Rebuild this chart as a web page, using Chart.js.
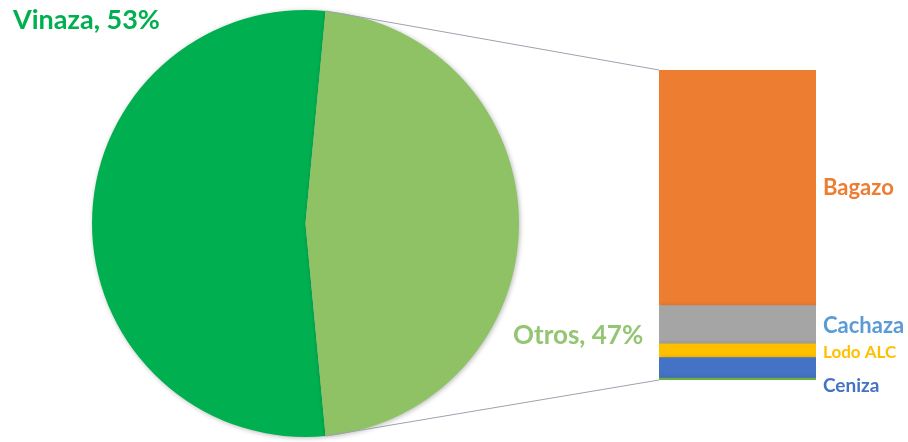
<!DOCTYPE html>
<html>
<head>
<meta charset="utf-8">
<script src="https://cdn.jsdelivr.net/npm/chart.js@4/dist/chart.umd.min.js"></script>
<style>
  html, body { margin: 0; padding: 0; background: #ffffff; }
  #wrap { position: relative; width: 908px; height: 442px; overflow: hidden; }
  #wrap canvas { position: absolute; left: 0; top: 0; }
</style>
</head>
<body>
<div id="wrap">
  <canvas id="pie" width="908" height="442"></canvas>
  <canvas id="bar" width="908" height="442"></canvas>
</div>
<script>
// ---- data ----
const pieLabels = ['Vinaza', 'Otros'];
const pieValues = [53, 47];
const pieColors = ['#00B050', '#8FC165'];
const pieLabelColors = ['#00B050', '#93C572'];

// listed top -> bottom of the stacked bar
const barLabels = ['Bagazo', 'Cachaza', 'Lodo ALC', 'Ceniza', 'Otros'];
const barValues = [35.7, 5.8, 2.1, 3.1, 0.3];
const barColors = ['#ED7D31', '#A5A5A5', '#FFC000', '#4472C4', '#70AD47'];
const barLabelColors = ['#ED7D31', '#5B9BD5', '#FFC000', '#4472C4', null];

const FONT = 'Lato, "Open Sans", sans-serif';

const shadowPlugin = {
  id: 'shadow',
  beforeDatasetsDraw(chart) {
    const ctx = chart.ctx;
    ctx.save();
    ctx.shadowColor = 'rgba(0,0,0,0.28)';
    ctx.shadowBlur = 5;
    ctx.shadowOffsetX = 1;
    ctx.shadowOffsetY = 1;
  },
  afterDatasetsDraw(chart) {
    chart.ctx.restore();
  }
};

// ---- pie ----
const pieLabelPlugin = {
  id: 'pieLabels',
  afterDraw(chart) {
    const ctx = chart.ctx;
    ctx.save();
    ctx.textBaseline = 'alphabetic';
    ctx.textAlign = 'left';
    ctx.font = 'bold 27px ' + FONT;
    ctx.fillStyle = pieLabelColors[0];
    ctx.fillText(pieLabels[0] + ', ' + pieValues[0] + '%', 13, 29);
    ctx.font = 'bold 26px ' + FONT;
    ctx.fillStyle = pieLabelColors[1];
    ctx.fillText(pieLabels[1] + ', ' + pieValues[1] + '%', 513, 344);
    ctx.restore();
  }
};

const pieChart = new Chart(document.getElementById('pie'), {
  type: 'pie',
  data: {
    labels: pieLabels,
    datasets: [{ data: pieValues, backgroundColor: pieColors, borderWidth: 0, hoverOffset: 0 }]
  },
  options: {
    responsive: false,
    animation: false,
    rotation: 174.6,
    events: [],
    layout: { padding: { left: 92, right: 389, top: 10, bottom: 5 } },
    plugins: { legend: { display: false }, tooltip: { enabled: false } }
  },
  plugins: [shadowPlugin, pieLabelPlugin]
});

// ---- bar ----
const n = barLabels.length;
const stackOrder = barLabels.map((_, i) => n - 1 - i); // bottom first

const barLabelPlugin = {
  id: 'barLabels',
  afterDraw(chart) {
    const ctx = chart.ctx;
    ctx.save();
    // connector lines from pie slice (Otros) edges to bar corners
    const arc = pieChart.getDatasetMeta(0).data[1];
    const p1 = { x: arc.x + arc.outerRadius * Math.cos(arc.startAngle), y: arc.y + arc.outerRadius * Math.sin(arc.startAngle) };
    const p2 = { x: arc.x + arc.outerRadius * Math.cos(arc.endAngle), y: arc.y + arc.outerRadius * Math.sin(arc.endAngle) };
    const el0 = chart.getDatasetMeta(0).data[0];
    const yTop = chart.scales.y.getPixelForValue(barValues.reduce((a, b) => a + b, 0));
    const yBot = chart.scales.y.getPixelForValue(0);
    const xLeft = el0.x - el0.width / 2;
    ctx.strokeStyle = '#9CA2AE';
    ctx.lineWidth = 1;
    ctx.beginPath();
    ctx.moveTo(p1.x, p1.y);
    ctx.lineTo(xLeft, yTop);
    ctx.moveTo(p2.x, p2.y);
    ctx.lineTo(xLeft, yBot);
    ctx.stroke();

    // segment labels
    const sizes = [22, 22, 17, 19];
    const nudge = [0, 1, 2, 18];
    ctx.textAlign = 'left';
    ctx.textBaseline = 'middle';
    for (let i = 0; i < n; i++) {
      if (!barLabelColors[i]) continue;
      const el = chart.getDatasetMeta(stackOrder.indexOf(i)).data[0];
      const yc = (el.y + el.base) / 2 + nudge[i];
      const xr = el.x + el.width / 2 + 7;
      ctx.font = 'bold ' + sizes[i] + 'px ' + FONT;
      ctx.fillStyle = barLabelColors[i];
      ctx.fillText(barLabels[i], xr, yc);
    }
    ctx.restore();
  }
};

const barChart = new Chart(document.getElementById('bar'), {
  type: 'bar',
  data: {
    labels: ['Otros'],
    datasets: stackOrder.map(i => ({
      label: barLabels[i],
      data: [barValues[i]],
      backgroundColor: barColors[i],
      borderWidth: 0,
      barPercentage: 1,
      categoryPercentage: 1
    }))
  },
  options: {
    responsive: false,
    animation: false,
    events: [],
    layout: { padding: { left: 659, right: 92, top: 70, bottom: 62 } },
    scales: {
      x: { stacked: true, display: false },
      y: { stacked: true, display: false, min: 0, max: 47 }
    },
    plugins: { legend: { display: false }, tooltip: { enabled: false } }
  },
  plugins: [shadowPlugin, barLabelPlugin]
});
</script>
</body>
</html>
